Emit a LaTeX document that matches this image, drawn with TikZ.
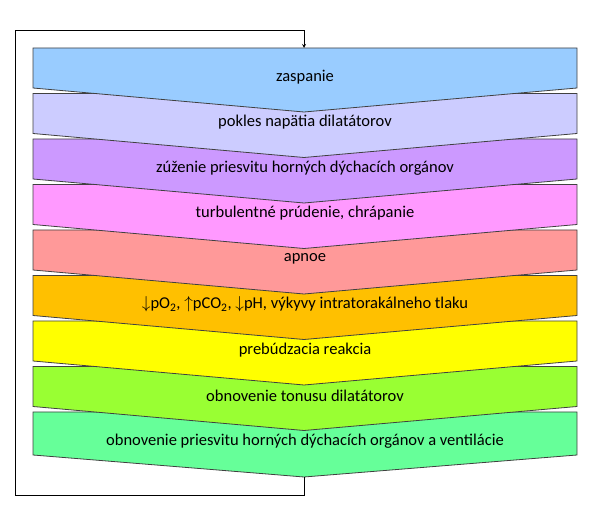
\documentclass[tikz,border=0pt]{standalone}
\usepackage{fontspec}
\setmainfont{Carlito}
\begin{document}
\begin{tikzpicture}[x=1pt,y=-1pt,
    band/.style={draw=black!75,line width=0.8pt},
    bandtext/.style={font=\fontsize{16.5}{18}\selectfont,inner sep=0pt}]
  \useasboundingbox (0,0) rectangle (600,518);
  % bands, drawn bottom first so the upper tips lie on top
  \foreach \i/\col/\side/\tip/\txt in {%
      9/66FF99/43/65/{obnovenie priesvitu horných dýchacích orgánov a ventilácie},
      8/99FF33/40/64/{obnovenie tonusu dilatátorov},
      7/FFFF00/40/64/{prebúdzacia reakcia},
      6/FFC000/40/64/{$\downarrow$pO\textsubscript{2}, $\uparrow$pCO\textsubscript{2}, $\downarrow$pH, výkyvy intratorakálneho tlaku},
      5/FF9999/40/64/{apnoe},
      4/FF99FF/40/64/{turbulentné prúdenie, chrápanie},
      3/CC99FF/40/64/{zúženie priesvitu horných dýchacích orgánov},
      2/CCCCFF/40/64/{pokles napätia dilatátorov},
      1/99CCFF/40/64/{zaspanie}}{
    \pgfmathsetmacro\ytop{48+45.5*(\i-1)}
    \definecolor{bandcol}{HTML}{\col}
    \draw[band,fill=bandcol] (33,\ytop) -- (577,\ytop) -- (577,\ytop+\side)
      -- (304,\ytop+\tip) -- (33,\ytop+\side) -- cycle;
    \coordinate (tip\i) at (304,\ytop+\tip);
    \coordinate (top\i) at (304,\ytop);
    \node[bandtext] (b\i) at (305,\ytop+29) {\txt};
  }
  % feedback loop
  \draw[line width=0.8pt,-stealth] (tip9) -- ++(0,18) -| (15,30) -| (top1);
\end{tikzpicture}
\end{document}
